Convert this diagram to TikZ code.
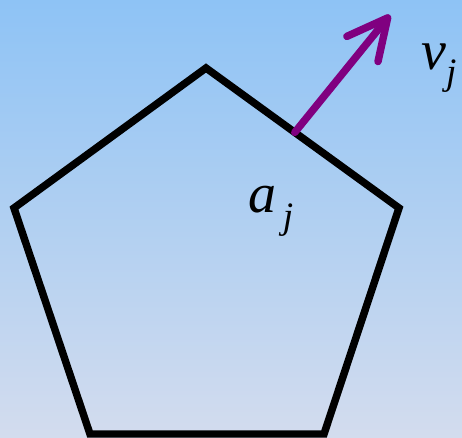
\documentclass[tikz,border=0pt]{standalone}
\usepackage{fontspec}
\setmainfont{Liberation Serif}
\usetikzlibrary{arrows.meta, calc}
\definecolor{skytop}{RGB}{142,195,245}
\definecolor{skybottom}{RGB}{211,220,238}
\definecolor{velpurple}{RGB}{128,0,128}

\begin{document}
\begin{tikzpicture}[x=0.75pt, y=-0.75pt,
  edge/.style={draw=black, line width=5.6pt, line join=miter},
  vel/.style={draw=velpurple, line width=5.6pt, line cap=round,
    -{Straight Barb[round, length=30pt, width=30pt]}},
  lbl/.style={inner sep=0pt, anchor=base west, font=\rmfamily\itshape\fontsize{42}{46}\selectfont}]

% background
\shade[top color=skytop, bottom color=skybottom] (0,0) rectangle (462,438);
\useasboundingbox (0,0) rectangle (462,438);

% pentagon corners
\coordinate (top) at (206,68);
\coordinate (right) at (399,208);
\coordinate (bright) at (324,434);
\coordinate (bleft) at (90,434);
\coordinate (left) at (14,208);
\draw[edge] (top) -- (right) -- (bright) -- (bleft) -- (left) -- cycle;

% velocity at a point of the edge
\coordinate (aj) at ($(top)!0.46!(right)$);
\coordinate (vtip) at (390,15);
\draw[vel] (aj) -- (vtip);

\node[lbl] (alabel) at (248,213) {a\hspace{5pt}\raisebox{-12pt}{\fontsize{28}{30}\selectfont j}};
\node[lbl] (vlabel) at (421,70) {v\raisebox{-11pt}{\fontsize{28}{30}\selectfont j}};
\end{tikzpicture}
\end{document}
